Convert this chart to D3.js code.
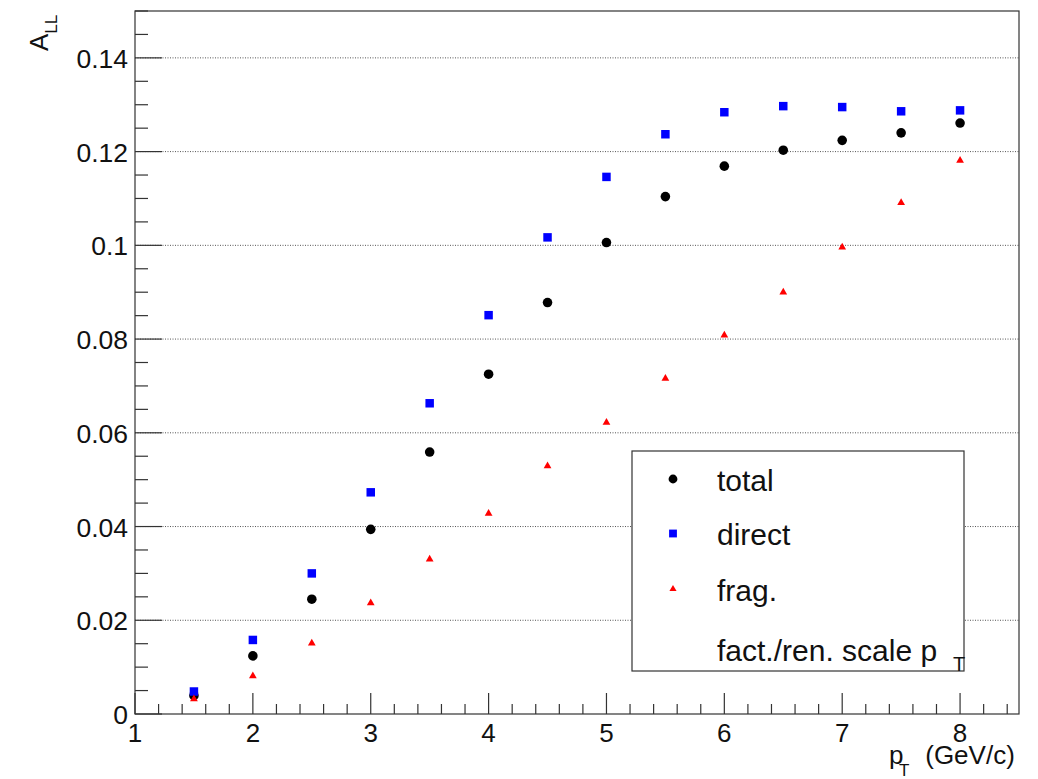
<!DOCTYPE html>
<html>
<head>
<meta charset="utf-8">
<script src="https://cdn.jsdelivr.net/npm/d3@7"></script>
<style>
  body { margin: 0; background: #fff; }
  svg { display: block; font-family: 'Liberation Sans', Arial, sans-serif; }
</style>
</head>
<body>
<svg id="chart" width="1038" height="779"></svg>
<script>
const ptValues = [1.5, 2, 2.5, 3, 3.5, 4, 4.5, 5, 5.5, 6, 6.5, 7, 7.5, 8];
const totalValues = [0.0039, 0.0124, 0.0245, 0.0394, 0.0559, 0.0725, 0.0878, 0.1006, 0.1104, 0.1169, 0.1203, 0.1224, 0.1240, 0.1261];
const directValues = [0.0048, 0.0158, 0.0300, 0.0473, 0.0663, 0.0851, 0.1017, 0.1146, 0.1237, 0.1284, 0.1297, 0.1295, 0.1286, 0.1288];
const fragValues = [0.0032, 0.0081, 0.0151, 0.0237, 0.0330, 0.0428, 0.0529, 0.0622, 0.0716, 0.0808, 0.0900, 0.0996, 0.1091, 0.1181];
const xTicks = [1, 2, 3, 4, 5, 6, 7, 8];
const yTicks = [0, 0.02, 0.04, 0.06, 0.08, 0.1, 0.12, 0.14];
const yTickLabels = ['0', '0.02', '0.04', '0.06', '0.08', '0.1', '0.12', '0.14'];
const legendLabels = ['total', 'direct', 'frag.'];

const frame = { left: 135, right: 1019, top: 11, bottom: 714 };
const svg = d3.select('svg');

const x = d3.scaleLinear().domain([1, 8.5]).range([frame.left, frame.right]);
const y = d3.scaleLinear().domain([0, 0.15]).range([frame.bottom, frame.top]);

const axisColor = '#333';

// grid lines (dotted, at major y ticks)
svg.append('g')
  .selectAll('line')
  .data(yTicks.filter((d) => d > 0))
  .enter()
  .append('line')
  .attr('x1', frame.left)
  .attr('x2', frame.right)
  .attr('y1', (d) => y(d))
  .attr('y2', (d) => y(d))
  .attr('stroke', '#555')
  .attr('stroke-width', 1)
  .attr('stroke-dasharray', '1,1.5');

// x axis ticks, pointing up
const xMinor = d3.range(1, 8.5001, 0.2).map((v) => +v.toFixed(1));
svg.append('g')
  .selectAll('line')
  .data(xMinor)
  .enter()
  .append('line')
  .attr('x1', (d) => x(d))
  .attr('x2', (d) => x(d))
  .attr('y1', frame.bottom)
  .attr('y2', (d) => frame.bottom - (Number.isInteger(d) ? 21 : 10))
  .attr('stroke', axisColor)
  .attr('stroke-width', 1.2);

svg.append('g')
  .selectAll('text')
  .data(xTicks)
  .enter()
  .append('text')
  .attr('x', (d) => x(d))
  .attr('y', 742)
  .attr('text-anchor', 'middle')
  .attr('font-size', 26)
  .attr('fill', '#111')
  .text((d) => d);

// y axis ticks, pointing right
const yMinor = d3.range(0, 0.15001, 0.005).map((v) => +v.toFixed(3));
svg.append('g')
  .selectAll('line')
  .data(yMinor)
  .enter()
  .append('line')
  .attr('x1', frame.left)
  .attr('x2', (d) => frame.left + (Math.round(d * 1000) % 20 === 0 ? 27 : 13))
  .attr('y1', (d) => y(d))
  .attr('y2', (d) => y(d))
  .attr('stroke', axisColor)
  .attr('stroke-width', 1.2);

svg.append('g')
  .selectAll('text')
  .data(yTicks)
  .enter()
  .append('text')
  .attr('x', 128)
  .attr('y', (d) => y(d) + 10)
  .attr('text-anchor', 'end')
  .attr('font-size', 26.5)
  .attr('fill', '#111')
  .text((d, i) => yTickLabels[i]);

// frame
svg.append('rect')
  .attr('x', frame.left)
  .attr('y', frame.top)
  .attr('width', frame.right - frame.left)
  .attr('height', frame.bottom - frame.top)
  .attr('fill', 'none')
  .attr('stroke', axisColor)
  .attr('stroke-width', 1.2);

// axis titles
const xTitle = svg.append('text')
  .attr('x', 889)
  .attr('y', 764)
  .attr('font-size', 26)
  .attr('fill', '#111');
xTitle.append('tspan').text('p');
xTitle.append('tspan').attr('x', 899).attr('dy', 12).attr('font-size', 17).text('T');
xTitle.append('tspan').attr('x', 918).attr('dy', -12).text(' (GeV/c)');

const yTitle = svg.append('text')
  .attr('transform', 'translate(48, 51) rotate(-90)')
  .attr('font-size', 26)
  .attr('fill', '#111');
yTitle.append('tspan').text('A');
yTitle.append('tspan').attr('dy', 9).attr('font-size', 17).text('LL');

// markers
const symbols = [
  { values: totalValues, type: d3.symbolCircle, size: 72, color: '#000' },
  { values: directValues, type: d3.symbolSquare, size: 72, color: '#0000ff' },
  { values: fragValues, type: d3.symbolTriangle, size: 26, color: '#ff0000' },
];

symbols.forEach((s) => {
  svg.append('g')
    .selectAll('path')
    .data(ptValues)
    .enter()
    .append('path')
    .attr('d', d3.symbol().type(s.type).size(s.size))
    .attr('fill', s.color)
    .attr('transform', (d, i) => `translate(${x(d)}, ${y(s.values[i])})`);
});

// legend
const legend = svg.append('g');
legend.append('rect')
  .attr('x', 632)
  .attr('y', 451)
  .attr('width', 332)
  .attr('height', 220)
  .attr('fill', '#fff')
  .attr('stroke', axisColor)
  .attr('stroke-width', 1.2);

const rowY = [479, 533.5, 589, 644];
symbols.forEach((s, i) => {
  legend.append('path')
    .attr('d', d3.symbol().type(s.type).size(s.size * 0.85))
    .attr('fill', s.color)
    .attr('transform', `translate(673, ${rowY[i]})`);
  legend.append('text')
    .attr('x', 717)
    .attr('y', rowY[i] + 11.5)
    .attr('font-size', 30)
    .attr('fill', '#111')
    .text(legendLabels[i]);
});

const scaleText = legend.append('text')
  .attr('x', 717)
  .attr('y', rowY[3] + 17)
  .attr('font-size', 30)
  .attr('fill', '#111');
scaleText.append('tspan').text('fact./ren. scale p');
scaleText.append('tspan').attr('x', 953).attr('dy', 10).attr('font-size', 20).text('T');
</script>
</body>
</html>
